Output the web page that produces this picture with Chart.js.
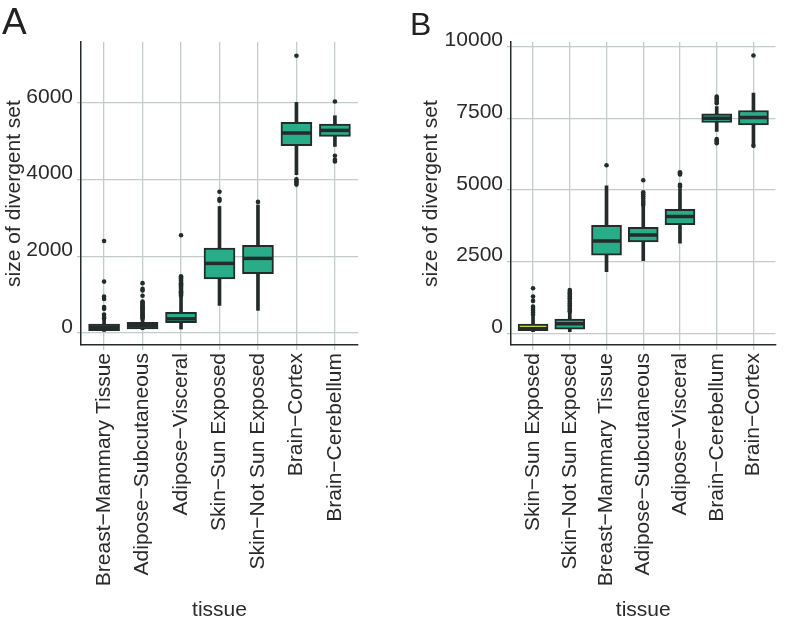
<!DOCTYPE html>
<html>
<head>
<meta charset="utf-8">
<script src="https://cdn.jsdelivr.net/npm/chart.js@4"></script>
<style>
  body { margin: 0; background: #fff; }
  #wrap { position: relative; width: 793px; height: 624px; overflow: hidden; }
  canvas { position: absolute; top: 0; }
  .tag { position: absolute; font-family: "Liberation Sans", Arial, sans-serif; color: #222; line-height: 1; }
</style>
</head>
<body>
<div id="wrap">
  <canvas id="chartA" width="376" height="624" style="left:0"></canvas>
  <canvas id="chartB" width="393" height="624" style="left:400px"></canvas>
  <div class="tag" style="left:2px;top:3px;font-size:37px">A</div>
  <div class="tag" style="left:410px;top:8px;font-size:32px">B</div>
</div>
<script>
// panel A
const tissuesA = ["Breast\u2212Mammary Tissue", "Adipose\u2212Subcutaneous", "Adipose\u2212Visceral",
  "Skin\u2212Sun Exposed", "Skin\u2212Not Sun Exposed", "Brain\u2212Cortex", "Brain\u2212Cerebellum"];
const lowA  = [40, 86, 104, 720, 590, 4130, 4866];
const q1A   = [60, 104, 270, 1408, 1547, 4885, 5127];
const medA  = [146, 190, 370, 1815, 1946, 5216, 5284];
const q3A   = [235, 276, 537, 2217, 2285, 5493, 5450];
const highA = [350, 340, 940, 3300, 3340, 6015, 5667];
const outA = [
  [2400, 1340, 950, 890, 680, 630, 480, 420, 380],
  [1300, 1150, 1110, 970, 820, 790, 760, 730, 700, 670, 640, 610, 580, 550, 520, 490, 460, 430, 400, 370],
  [2550, 1480, 1450, 1420, 1390, 1360, 1330, 1300, 1270, 1240, 1210, 1180, 1150, 1120, 1090, 1060, 1030, 1000, 970],
  [3685, 3495, 3450],
  [3420],
  [7230, 4010, 3960, 3920, 3870],
  [6040, 4624, 4520, 4475]
];
const yTicksA = [0, 2000, 4000, 6000];

// panel B
const tissuesB = ["Skin\u2212Sun Exposed", "Skin\u2212Not Sun Exposed", "Breast\u2212Mammary Tissue",
  "Adipose\u2212Subcutaneous", "Adipose\u2212Visceral", "Brain\u2212Cerebellum", "Brain\u2212Cortex"];
const lowB  = [60, 56, 2150, 2535, 3143, 7040, 6575];
const q1B   = [91, 140, 2724, 3188, 3792, 7354, 7274];
const medB  = [160, 330, 3223, 3433, 4072, 7507, 7530];
const q3B   = [325, 499, 3771, 3701, 4330, 7658, 7774];
const highB = [580, 700, 5144, 4420, 5050, 7915, 8381];
const outB = [
  [1570, 1280, 1130, 930, 860, 790, 720, 650],
  [1510, 1450, 1400, 1340, 1280, 1220, 1160, 1100, 1040, 980, 920, 860, 800, 750],
  [5866],
  [5342, 4920, 4850, 4780, 4700, 4620, 4550, 4480],
  [5620, 5580, 5540, 5180, 5120],
  [8263, 8200, 8140, 8080, 8030, 6775, 6720, 6680, 6635],
  [9694, 6540]
];
const yTicksB = [0, 2500, 5000, 7500, 10000];

const dark = "#232b2b";
const teal = "#29ad88";
const gridColor = "#c3cbcb";
const textColor = "#2a2a2a";
const family = "'Liberation Sans', Arial, sans-serif";

function boxDatasets(n, low, q1, med, q3, high, out, fills, width) {
  const idx = [...Array(n).keys()];
  return [
    { type: "bar", data: idx.map(i => ({ x: i, y: [low[i], high[i]] })),
      backgroundColor: dark, borderWidth: 0, barThickness: 3, grouped: false, order: 4 },
    { type: "bar", data: idx.map(i => ({ x: i, y: [q1[i], q3[i]] })),
      backgroundColor: fills, borderColor: dark, borderWidth: 2, borderSkipped: false,
      barThickness: width, grouped: false, order: 3 },
    { type: "scatter", data: idx.map(i => ({ x: i, y: med[i] })), showLine: false,
      pointStyle: "line", radius: width / 2 - 1, hoverRadius: width / 2 - 1,
      borderColor: dark, borderWidth: 3.5, order: 2 },
    { type: "scatter", data: out.flatMap((vals, i) => vals.map(v => ({ x: i, y: v }))), showLine: false,
      pointStyle: "circle", radius: 2.3, backgroundColor: dark, borderWidth: 0, order: 1 }
  ];
}

function makeOptions(labels, yMin, yMax, yTicks, yWidth, titlePad) {
  const font = { family: family, size: 21 };
  return {
    responsive: false,
    animation: false,
    devicePixelRatio: 1,
    layout: { padding: { top: 42, right: 1, bottom: 0, left: 0 } },
    plugins: { legend: { display: false }, tooltip: { enabled: false } },
    scales: {
      x: {
        type: "linear", min: -0.6, max: labels.length - 0.4, offset: false,
        afterBuildTicks: s => { s.ticks = labels.map((_, i) => ({ value: i })); },
        afterFit: s => { s.height = 279; },
        grid: { color: gridColor, lineWidth: 1.3, offset: false, tickLength: 5, tickColor: gridColor },
        border: { color: dark, width: 1.5 },
        ticks: { autoSkip: false, minRotation: 90, maxRotation: 90, padding: 3,
          color: textColor, font: font, callback: v => labels[v] },
        title: { display: true, text: "tissue", color: textColor, font: font, padding: { top: 0, bottom: 1 } }
      },
      y: {
        min: yMin, max: yMax,
        afterBuildTicks: s => { s.ticks = yTicks.map(v => ({ value: v })); },
        afterFit: s => { s.width = yWidth; },
        grid: { color: gridColor, lineWidth: 1.3, tickLength: 4, tickColor: gridColor },
        border: { color: dark, width: 1.5 },
        ticks: { padding: 4, labelOffset: -6, color: textColor, font: font, callback: v => String(v) },
        title: { display: true, text: "size of divergent set", color: textColor, font: font,
          padding: { top: titlePad, bottom: 0 } }
      }
    }
  };
}

new Chart(document.getElementById("chartA"), {
  type: "bar",
  data: { datasets: boxDatasets(7, lowA, q1A, medA, q3A, highA, outA, teal, 31) },
  options: makeOptions(tissuesA, -313, 7590, yTicksA, 81, 2)
});

const fillsB = tissuesB.map((_, i) => i === 0 ? "#c8d444" : teal);
new Chart(document.getElementById("chartB"), {
  type: "bar",
  data: { datasets: boxDatasets(7, lowB, q1B, medB, q3B, highB, outB, fillsB, 30) },
  options: makeOptions(tissuesB, -408, 10164, yTicksB, 111, 19)
});
</script>
</body>
</html>
